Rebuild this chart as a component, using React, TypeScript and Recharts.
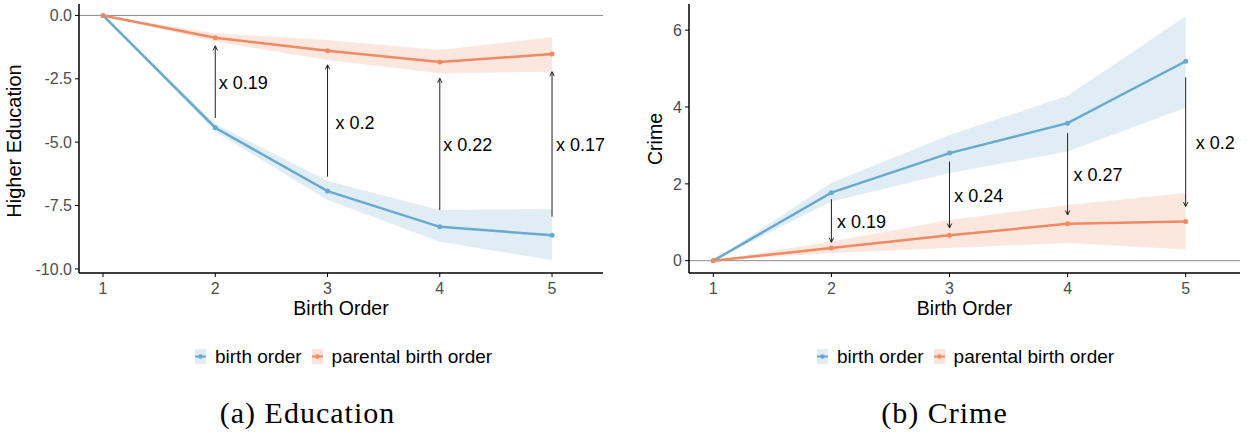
import React from 'react';
import { ComposedChart, Line, Area, XAxis, YAxis, ReferenceLine, ReferenceDot } from 'recharts';

// ---- data ----
const birthOrder = [1, 2, 3, 4, 5];

const eduBirth = [0, -4.43, -6.93, -8.34, -8.67];
const eduBirthLo = [0, -4.59, -7.28, -8.93, -9.65];
const eduBirthHi = [0, -4.28, -6.53, -7.68, -7.64];
const eduParent = [0, -0.88, -1.39, -1.84, -1.52];
const eduParentLo = [0, -1.03, -1.76, -2.28, -2.22];
const eduParentHi = [0, -0.7, -0.97, -1.36, -0.86];
const eduArrowFrom = [-4.05, -6.36, -7.68, -7.94];
const eduArrowTo = [-1.2, -1.95, -2.48, -2.22];
const eduArrowX = [2, 3, 4, 5];
const eduLabels = ['x 0.19', 'x 0.2', 'x 0.22', 'x 0.17'];
const eduLabelX = [2.03, 3.07, 4.03, 5.035];
const eduLabelY = [-2.67, -4.23, -5.11, -5.11];
const eduTicksY = [0, -2.5, -5, -7.5, -10];

const crimeBirth = [0, 1.77, 2.8, 3.58, 5.19];
const crimeBirthLo = [0, 1.54, 2.28, 2.84, 3.98];
const crimeBirthHi = [0, 2.03, 3.27, 4.29, 6.36];
const crimeParent = [0, 0.33, 0.66, 0.96, 1.02];
const crimeParentLo = [0, 0.2, 0.33, 0.46, 0.29];
const crimeParentHi = [0, 0.5, 1.06, 1.45, 1.76];
const crimeArrowFrom = [1.6, 2.58, 3.32, 4.77];
const crimeArrowTo = [0.48, 0.85, 1.19, 1.41];
const crimeArrowX = [2, 3, 4, 5];
const crimeLabels = ['x 0.19', 'x 0.24', 'x 0.27', 'x 0.2'];
const crimeLabelX = [2.048, 3.04, 4.05, 5.085];
const crimeLabelY = [1.02, 1.69, 2.23, 3.06];
const crimeTicksY = [0, 2, 4, 6];

const legendLabels = ['birth order', 'parental birth order'];

const BLUE = '#67a9cf';
const ORANGE = '#ef8a62';
const BLUE_BAND = '#e1edf5';
const ORANGE_BAND = '#fce3d9';
const SANS = '"Liberation Sans", Arial, Helvetica, sans-serif';
const SERIF = '"Liberation Serif", "Times New Roman", serif';

function buildRows(bLine: number[], bLo: number[], bHi: number[], pLine: number[], pLo: number[], pHi: number[]) {
  return birthOrder.map((x, i) => ({
    x,
    birth: bLine[i],
    birthBand: [bLo[i], bHi[i]],
    parent: pLine[i],
    parentBand: [pLo[i], pHi[i]],
  }));
}

const ArrowShape = (props: any) => {
  const { x1, y1, x2, y2 } = props;
  const dir = y2 > y1 ? 1 : -1;
  const h = 4.5;
  const w = 2.2;
  return (
    <g>
      <line x1={x1} y1={y1} x2={x2} y2={y2} stroke="#222" strokeWidth={1} />
      <path d={`M${x2 - w},${y2 - dir * h} L${x2},${y2} L${x2 + w},${y2 - dir * h}`} fill="none" stroke="#222" strokeWidth={1} />
    </g>
  );
};

const makeLabel = (text: string) => (p: any) => (
  <text x={p.cx} y={p.cy} dominantBaseline="central" fontSize={18} fontFamily={SANS} fill="#000">
    {text}
  </text>
);

type PanelProps = {
  left: number;
  width: number;
  yAxisWidth: number;
  rightMargin: number;
  rows: any[];
  xDomain: [number, number];
  yDomain: [number, number];
  yTicks: number[];
  yFmt: (v: number) => string;
  arrowX: number[];
  arrowFrom: number[];
  arrowTo: number[];
  labels: string[];
  labelX: number[];
  labelY: number[];
};

function Panel(p: PanelProps) {
  return (
    <div style={{ position: 'absolute', left: p.left, top: 0 }}>
      <ComposedChart
        width={p.width}
        height={300}
        data={p.rows}
        margin={{ top: 4, right: p.rightMargin, bottom: 0, left: 0 }}
        style={{ fontFamily: SANS }}
      >
        <XAxis
          dataKey="x"
          type="number"
          domain={p.xDomain}
          ticks={birthOrder}
          allowDataOverflow
          height={27}
          tickSize={4}
          tickMargin={6}
          axisLine={{ stroke: '#000', strokeWidth: 1.5 }}
          tickLine={{ stroke: '#000', strokeWidth: 1 }}
          tick={{ fill: '#4d4d4d', fontSize: 16, fontFamily: SANS }}
        />
        <YAxis
          type="number"
          domain={p.yDomain}
          ticks={p.yTicks}
          allowDataOverflow
          width={p.yAxisWidth}
          tickFormatter={p.yFmt}
          tickSize={4}
          tickMargin={3}
          axisLine={{ stroke: '#000', strokeWidth: 1.5 }}
          tickLine={{ stroke: '#000', strokeWidth: 1 }}
          tick={{ fill: '#4d4d4d', fontSize: 16, fontFamily: SANS }}
        />
        <ReferenceLine y={0} stroke="#8a8a8a" strokeWidth={1} />
        <Area dataKey="birthBand" type="linear" stroke="none" fill={BLUE_BAND} fillOpacity={1} isAnimationActive={false} />
        <Area dataKey="parentBand" type="linear" stroke="none" fill={ORANGE_BAND} fillOpacity={0.85} isAnimationActive={false} />
        <Line dataKey="birth" type="linear" stroke={BLUE} strokeWidth={2.5} dot={{ r: 2.5, fill: BLUE, stroke: 'none' }} isAnimationActive={false} />
        <Line dataKey="parent" type="linear" stroke={ORANGE} strokeWidth={2.5} dot={{ r: 2.5, fill: ORANGE, stroke: 'none' }} isAnimationActive={false} />
        {p.arrowX.map((x, i) => (
          <ReferenceLine
            key={'a' + i}
            segment={[{ x, y: p.arrowFrom[i] }, { x, y: p.arrowTo[i] }]}
            shape={ArrowShape}
            ifOverflow="visible"
          />
        ))}
        {p.labels.map((t, i) => (
          <ReferenceDot key={'l' + i} x={p.labelX[i]} y={p.labelY[i]} r={0} shape={makeLabel(t)} ifOverflow="visible" />
        ))}
      </ComposedChart>
    </div>
  );
}

function LegendKey({ color, band }: { color: string; band: string }) {
  return (
    <svg width={11} height={15} style={{ display: 'block' }}>
      <rect x={0} y={0} width={11} height={15} fill={band} />
      <line x1={0} y1={7.5} x2={11} y2={7.5} stroke={color} strokeWidth={2} />
      <circle cx={5.5} cy={7.5} r={2.3} fill={color} />
    </svg>
  );
}

function Legend({ left }: { left: number }) {
  return (
    <div
      style={{
        position: 'absolute',
        left,
        top: 348,
        height: 17,
        display: 'flex',
        alignItems: 'center',
        fontFamily: SANS,
        fontSize: 19,
        color: '#000',
        whiteSpace: 'nowrap',
      }}
    >
      <LegendKey color={BLUE} band={BLUE_BAND} />
      <span style={{ marginLeft: 9, marginRight: 10 }}>{legendLabels[0]}</span>
      <LegendKey color={ORANGE} band={ORANGE_BAND} />
      <span style={{ marginLeft: 9 }}>{legendLabels[1]}</span>
    </div>
  );
}

const centered = (x: number, y: number, extra: React.CSSProperties = {}): React.CSSProperties => ({
  position: 'absolute',
  left: x,
  top: y,
  transform: 'translate(-50%, -50%)',
  whiteSpace: 'nowrap',
  lineHeight: 1,
  ...extra,
});

export default function App() {
  const eduRows = buildRows(eduBirth, eduBirthLo, eduBirthHi, eduParent, eduParentLo, eduParentHi);
  const crimeRows = buildRows(crimeBirth, crimeBirthLo, crimeBirthHi, crimeParent, crimeParentLo, crimeParentHi);
  return (
    <div style={{ position: 'absolute', left: 0, top: 0, width: 1247, height: 436, background: '#fff', overflow: 'hidden' }}>
      <Panel
        left={0}
        width={620}
        yAxisWidth={79}
        rightMargin={17}
        rows={eduRows}
        xDomain={[0.786, 5.454]}
        yDomain={[-10.16, 0.45]}
        yTicks={eduTicksY}
        yFmt={(v) => v.toFixed(1)}
        arrowX={eduArrowX}
        arrowFrom={eduArrowFrom}
        arrowTo={eduArrowTo}
        labels={eduLabels}
        labelX={eduLabelX}
        labelY={eduLabelY}
      />
      <Panel
        left={620}
        width={627}
        yAxisWidth={69}
        rightMargin={7}
        rows={crimeRows}
        xDomain={[0.794, 5.46]}
        yDomain={[-0.32, 6.68]}
        yTicks={crimeTicksY}
        yFmt={(v) => String(v)}
        arrowX={crimeArrowX}
        arrowFrom={crimeArrowFrom}
        arrowTo={crimeArrowTo}
        labels={crimeLabels}
        labelX={crimeLabelX}
        labelY={crimeLabelY}
      />
      <div style={centered(341, 309, { fontFamily: SANS, fontSize: 19.5 })}>Birth Order</div>
      <div style={centered(964.5, 309, { fontFamily: SANS, fontSize: 19.5 })}>Birth Order</div>
      <div style={centered(13.5, 141, { fontFamily: SANS, fontSize: 20, transform: 'translate(-50%, -50%) rotate(-90deg)' })}>Higher Education</div>
      <div style={centered(656, 138.5, { fontFamily: SANS, fontSize: 19.5, transform: 'translate(-50%, -50%) rotate(-90deg)' })}>Crime</div>
      <Legend left={195} />
      <Legend left={817} />
      <div style={centered(307.5, 413, { fontFamily: SERIF, fontSize: 30, letterSpacing: 1 })}>(a) Education</div>
      <div style={centered(944.5, 413, { fontFamily: SERIF, fontSize: 30, letterSpacing: 1 })}>(b) Crime</div>
    </div>
  );
}
